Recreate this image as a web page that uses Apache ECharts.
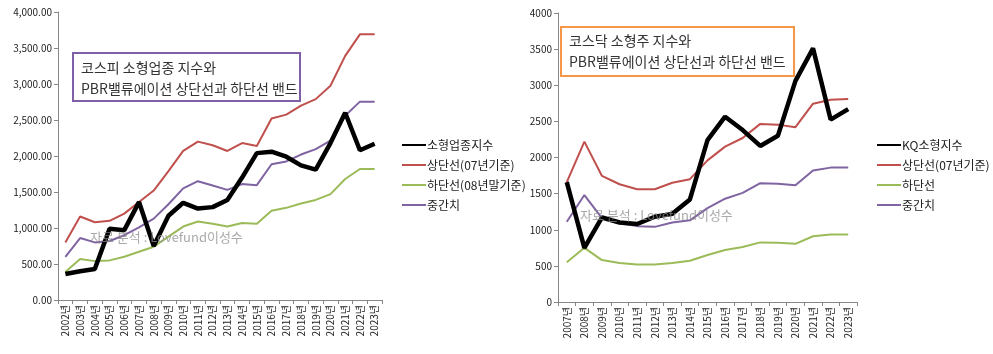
<!DOCTYPE html>
<html>
<head>
<meta charset="utf-8">
<script src="https://cdn.jsdelivr.net/npm/echarts@6/dist/echarts.min.js"></script>
<style>
  html, body { margin: 0; padding: 0; background: #fff; }
  #chart { width: 993px; height: 354px; }
</style>
</head>
<body>
<div id="chart"></div>
<script>
// 코스피 소형업종 (왼쪽)
var kospiYears = ["2002년","2003년","2004년","2005년","2006년","2007년","2008년","2009년","2010년","2011년","2012년",
    "2013년","2014년","2015년","2016년","2017년","2018년","2019년","2020년","2021년","2022년","2023년"];
var kospiIndex = [360, 400, 430, 990, 970, 1360, 750, 1170, 1350, 1270, 1290, 1390, 1700, 2040, 2060, 1990, 1870, 1810, 2180, 2600, 2080, 2170];
var kospiUpper = [800, 1160, 1080, 1100, 1200, 1360, 1520, 1790, 2070, 2200, 2150, 2070, 2180, 2140, 2520, 2575, 2700, 2790, 2975, 3390, 3690, 3690];
var kospiLower = [390, 570, 540, 550, 600, 670, 740, 880, 1020, 1090, 1060, 1020, 1070, 1060, 1240, 1280, 1340, 1390, 1470, 1680, 1820, 1820];
var kospiMid = [600, 860, 800, 820, 900, 1010, 1130, 1330, 1550, 1650, 1590, 1530, 1610, 1595, 1885, 1925, 2020, 2095, 2215, 2560, 2755, 2755];

// 코스닥 소형주 (오른쪽)
var kqYears = ["2007년","2008년","2009년","2010년","2011년","2012년","2013년","2014년","2015년","2016년","2017년",
    "2018년","2019년","2020년","2021년","2022년","2023년"];
var kqIndex = [1660, 750, 1170, 1100, 1080, 1180, 1220, 1420, 2240, 2565, 2380, 2160, 2300, 3060, 3510, 2525, 2670];
var kqUpper = [1660, 2220, 1745, 1630, 1560, 1560, 1650, 1700, 1960, 2150, 2270, 2465, 2455, 2420, 2745, 2800, 2810];
var kqLower = [550, 750, 580, 540, 520, 520, 540, 570, 650, 720, 760, 825, 820, 805, 910, 935, 935];
var kqMid = [1110, 1480, 1160, 1090, 1050, 1040, 1100, 1130, 1300, 1430, 1510, 1645, 1635, 1615, 1820, 1860, 1860];

var leftNames = ["소형업종지수", "상단선(07년기준)", "하단선(08년말기준)", "중간치"];
var rightNames = ["KQ소형지수", "상단선(07년기준)", "하단선", "중간치"];

var colors = ["#000000", "#C0504D", "#9BBB59", "#8064A2"];
var widths = [4.5, 2, 2, 2];
var font = "'Noto Sans CJK KR', 'Noto Sans', sans-serif";

function lineSeries(name, data, idx, axisIdx) {
    return {
        name: name,
        type: "line",
        xAxisIndex: axisIdx,
        yAxisIndex: axisIdx,
        data: data,
        symbol: "none",
        z: idx === 0 ? 5 : 3,
        lineStyle: { color: colors[idx], width: widths[idx] },
        itemStyle: { color: colors[idx] },
        animation: false
    };
}

function xAxisCfg(years, grid) {
    return {
        type: "category",
        gridIndex: grid,
        data: years,
        boundaryGap: true,
        axisLine: { lineStyle: { color: "#868686" } },
        axisTick: { show: true, length: 4, lineStyle: { color: "#868686" } },
        axisLabel: { rotate: 90, interval: 0, fontSize: 10, color: "#222", fontFamily: font, margin: 5 }
    };
}

function yAxisCfg(grid, fmt) {
    return {
        type: "value",
        gridIndex: grid,
        min: 0,
        max: 4000,
        interval: 500,
        axisLine: { show: true, lineStyle: { color: "#868686" } },
        axisTick: { show: true, length: 4, lineStyle: { color: "#868686" } },
        splitLine: { show: false },
        axisLabel: { fontSize: 10, color: "#222", fontFamily: font, formatter: fmt, margin: 6 }
    };
}

function legendCfg(names, left) {
    return {
        data: names,
        orient: "vertical",
        left: left,
        top: 134,
        itemWidth: 24,
        itemHeight: 10,
        itemGap: 8,
        itemStyle: { opacity: 0 },
        textStyle: { fontSize: 12, color: "#222", fontFamily: font, padding: [0, 0, 0, -4] },
        selectedMode: false
    };
}

var chart = echarts.init(document.getElementById("chart"));
chart.setOption({
    backgroundColor: "#fff",
    textStyle: { fontFamily: font },
    grid: [
        { left: 58, top: 12, width: 324, height: 288 },
        { left: 558, top: 13, width: 299, height: 289 }
    ],
    xAxis: [xAxisCfg(kospiYears, 0), xAxisCfg(kqYears, 1)],
    yAxis: [
        yAxisCfg(0, function (v) {
            return v.toLocaleString("en-US", { minimumFractionDigits: 2, maximumFractionDigits: 2 });
        }),
        yAxisCfg(1, function (v) { return String(v); })
    ],
    legend: [legendCfg(leftNames, 396), legendCfg(rightNames, 871)],
    graphic: [
        {
            type: "rect",
            left: 72, top: 52,
            shape: { width: 227, height: 48 },
            style: { fill: "#fff", stroke: "#7F5FA5", lineWidth: 2 },
            z: 10
        },
        {
            type: "text",
            left: 81, top: 57,
            style: {
                text: "코스피 소형업종 지수와\nPBR밸류에이션 상단선과 하단선 밴드",
                font: "14px " + font, fill: "#333", lineHeight: 21
            },
            z: 11
        },
        {
            type: "rect",
            left: 560, top: 26,
            shape: { width: 233, height: 49 },
            style: { fill: "#fff", stroke: "#F79646", lineWidth: 2 },
            z: 10
        },
        {
            type: "text",
            left: 569, top: 30,
            style: {
                text: "코스닥 소형주 지수와\nPBR밸류에이션 상단선과 하단선 밴드",
                font: "14px " + font, fill: "#333", lineHeight: 21
            },
            z: 11
        },
        {
            type: "text",
            left: 90, top: 231,
            style: { text: "자료 분석 : Lovefund이성수", font: "13px " + font, fill: "rgba(140,140,140,0.75)" },
            z: 12
        },
        {
            type: "text",
            left: 580, top: 209,
            style: { text: "자료 분석 : Lovefund이성수", font: "13px " + font, fill: "rgba(140,140,140,0.75)" },
            z: 12
        }
    ],
    series: [
        lineSeries(leftNames[0], kospiIndex, 0, 0),
        lineSeries(leftNames[1], kospiUpper, 1, 0),
        lineSeries(leftNames[2], kospiLower, 2, 0),
        lineSeries(leftNames[3], kospiMid, 3, 0),
        lineSeries(rightNames[0], kqIndex, 0, 1),
        lineSeries(rightNames[1], kqUpper, 1, 1),
        lineSeries(rightNames[2], kqLower, 2, 1),
        lineSeries(rightNames[3], kqMid, 3, 1)
    ]
});
</script>
</body>
</html>
